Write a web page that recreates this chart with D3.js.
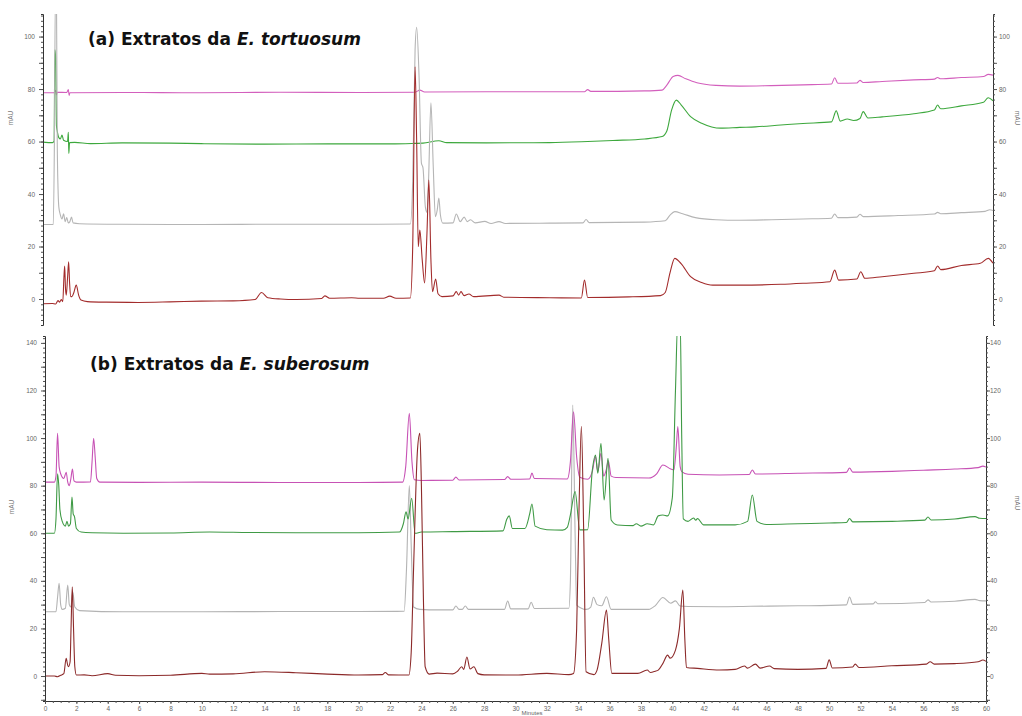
<!DOCTYPE html>
<html><head><meta charset="utf-8">
<script src="https://cdn.jsdelivr.net/npm/d3@7"></script>
<style>body{margin:0;background:#fff}svg{display:block}</style>
</head><body>
<svg id="c" width="1022" height="716"></svg>
<script>
// ---------- DATA (time in minutes, absorbance in mAU) ----------
const aPink=[[0,78.6],[0.7,78.6],[0.8,79.5],[0.85,77.8],[0.9,78.8],[1.5,78.7],[1.6,79.8],[1.65,77.6],[1.7,78.6],[5,78.7],[10,78.6],[15,78.8],[20,78.7],[23.5,78.8],[23.8,79.6],[24.1,78.9],[28,79],[34.2,79],[34.4,79.8],[34.6,79.1],[38,79.3],[39.1,79.6],[39.4,81.5],[39.8,84.8],[40.1,85.2],[40.6,83.9],[41.3,82.4],[42.5,81.4],[44,81.1],[46,81.3],[48,81.6],[49.8,81.9],[50.0,84.3],[50.2,82.2],[51.4,82.3],[51.6,83.3],[51.8,82.5],[53,82.9],[55,83.5],[56.3,83.8],[56.5,84.4],[56.7,83.9],[58,84.4],[59.4,84.8],[59.7,85.6],[60,85.3]];
const aGreen=[[0,59.8],[0.6,59.6],[0.7,60.2],[0.75,95],[0.8,92],[0.85,66],[0.9,64],[1.0,61.5],[1.1,61],[1.2,62.5],[1.3,60.5],[1.55,60],[1.6,63.5],[1.63,55.5],[1.68,59.6],[2,59.7],[3,59.2],[5,59.5],[8,59.4],[10,59.2],[14,59],[18,59.1],[22,59.1],[23.5,59.3],[24,59.4],[25,60.3],[25.5,59.6],[28,59.5],[32,59.6],[34,59.9],[36,60.4],[38,61],[39.1,61.9],[39.4,64],[39.7,72],[40.0,75.8],[40.3,74],[40.9,69.5],[41.6,67],[42.8,65.1],[44,65.4],[45,65.6],[46.6,66.3],[48,66.9],[49.8,67.5],[50.1,71.7],[50.35,67.8],[50.8,68.6],[51.2,68],[51.6,68.8],[51.8,71.4],[52.1,69],[53,69.4],[55,70.6],[56.3,72],[56.5,73.9],[56.7,72.5],[58,73.6],[59.4,75],[59.7,76.7],[60,75.5]];
const aGray=[[0,28.4],[0.65,28.4],[0.72,60],[0.78,115],[0.85,115],[0.9,60],[0.95,42],[1.0,35],[1.1,32],[1.2,30.5],[1.3,32.5],[1.4,29.5],[1.5,31],[1.6,29],[1.7,29.5],[1.8,31.2],[1.9,29],[2.3,28.7],[5,28.5],[10,28.4],[15,28.5],[20,28.5],[23.2,28.6],[23.35,45],[23.5,95],[23.6,103.5],[23.75,85],[23.9,51.8],[24.0,50],[24.15,35],[24.25,33],[24.35,45],[24.5,74.8],[24.65,50],[24.78,31.4],[24.9,34],[25.0,38.5],[25.1,32],[25.25,28.9],[25.9,29],[26.1,32.4],[26.35,29.5],[26.6,31.2],[26.8,29.5],[27.0,30.2],[27.3,29],[27.9,29.6],[28.3,28.8],[28.8,29.5],[29.2,28.8],[32,28.9],[34.1,29],[34.3,30.3],[34.5,29.1],[38,29.3],[39.3,29.8],[39.6,32],[39.9,33.3],[40.4,32.5],[41.2,31],[42.5,30.2],[44,30],[46,30.2],[48,30.5],[49.8,30.8],[50.0,32.4],[50.2,31],[51.4,31.2],[51.6,32.3],[51.8,31.4],[54,31.8],[56.3,32.4],[56.5,33],[56.7,32.5],[58,32.9],[59.5,33.4],[59.8,34],[60,33.7]];
const aRed=[[0,-1.8],[0.6,-1.7],[0.8,-1.9],[0.95,-0.6],[1.05,-1.2],[1.15,-0.2],[1.25,-1],[1.32,8],[1.37,12.6],[1.42,4],[1.47,1.5],[1.55,8],[1.62,14.2],[1.68,6],[1.75,1],[1.82,0.9],[1.95,2.5],[2.1,5.3],[2.25,1.5],[2.4,-0.4],[2.8,-1],[4,-1.2],[6,-1.3],[8,-1.1],[10,-0.8],[12,-0.7],[13.4,-0.2],[13.8,2.5],[14.2,0.5],[15,0],[16,-0.2],[17.6,0.2],[17.8,1.2],[18.1,0.3],[19.5,0.5],[20,0.3],[21.5,0.3],[21.9,1.1],[22.3,0.3],[23.2,0.4],[23.35,20],[23.5,88.5],[23.6,60],[23.7,19.9],[23.8,26.3],[23.95,15],[24.1,6.1],[24.25,25],[24.37,45.3],[24.5,15],[24.6,2.8],[24.8,7.6],[24.95,2],[25.2,0.9],[25.9,1.2],[26.1,2.8],[26.25,1.5],[26.4,2.8],[26.6,1.3],[26.9,1.9],[27.2,0.9],[28.8,1.5],[29.1,0.7],[32,0.5],[34,0.4],[34.2,7.2],[34.4,0.6],[37,0.8],[39,1.3],[39.3,2.5],[39.6,10],[39.9,15.5],[40.3,13.5],[40.9,8.5],[41.6,6.3],[42.3,5.3],[44,5.3],[46.6,5.6],[48,6],[49.7,6.6],[50.0,11],[50.25,7.2],[51.4,7.6],[51.65,10.4],[51.9,7.9],[53,8.5],[55,9.8],[56.3,10.8],[56.5,12.6],[56.7,11.2],[58,12.8],[59.2,13.6],[59.7,15.5],[60,13.6]];

const bPink=[[0,81.5],[0.6,81.5],[0.7,84],[0.8,102],[0.9,88],[1.0,85],[1.2,83],[1.35,85.6],[1.45,81.5],[1.55,80],[1.65,83],[1.75,87],[1.85,82],[2.0,81.5],[2.9,81.6],[3.0,90],[3.1,99.9],[3.2,92],[3.3,83],[3.5,81.5],[6,81.4],[10,81.5],[15,81.3],[20,81.3],[22.8,81.5],[23.0,88],[23.23,110.4],[23.4,90],[23.55,82.5],[24,82.2],[26,82.3],[26.2,83.6],[26.4,82.4],[29.3,82.6],[29.5,83.8],[29.7,82.7],[30.9,82.8],[31.05,85.3],[31.2,83],[33.3,82.8],[33.5,90],[33.7,111],[33.9,92],[34.1,83.5],[34.6,82.7],[34.9,86],[35.1,92.2],[35.25,85.9],[35.45,93.6],[35.62,84],[35.8,87],[35.92,90.5],[36.1,84],[36.4,83.4],[38.5,83.2],[39.0,85],[39.4,88.7],[39.9,87],[40.1,86.6],[40.25,96],[40.35,104.8],[40.5,88],[40.6,85.9],[41,84.8],[43,84.5],[44.9,84.7],[45.1,86.6],[45.3,84.9],[48,85.2],[51.1,85.6],[51.3,87.4],[51.5,85.7],[54,86],[56,86.5],[58,87],[59.5,87.6],[59.8,88.2],[60,87.8]];
const bGreen=[[0,60],[0.6,60],[0.7,66],[0.8,85],[0.88,80],[0.95,70],[1.1,65],[1.3,63],[1.4,65],[1.5,63],[1.62,64],[1.72,75.2],[1.8,68],[1.88,67],[2.0,62],[2.3,60.5],[3,60.2],[5,60],[8,60.1],[10.5,60.5],[13,60.3],[16,60.2],[20,60.2],[22.6,60.5],[22.85,64],[23.02,69],[23.15,66],[23.38,74.7],[23.6,60],[24,60.5],[26,60.7],[29.2,61],[29.45,66],[29.6,67.3],[29.8,62],[30.6,62],[30.9,68],[31.05,72.3],[31.25,63],[32,61.5],[33,61.3],[33.3,62.5],[33.5,67.7],[33.8,77.5],[34.1,61.4],[34.6,61.5],[34.9,86.6],[35.1,92.9],[35.25,85.2],[35.45,97.8],[35.65,74],[35.9,91.5],[36.1,65.6],[36.5,63.5],[37.5,63.2],[37.7,64],[38.0,63],[38.4,64],[38.8,63.5],[39.1,67.3],[39.4,67.7],[39.7,67.3],[40.0,75],[40.2,120],[40.35,150],[40.5,150],[40.6,100],[40.7,66],[41.0,65],[41.35,66.4],[41.5,65.5],[41.6,66.2],[42,63.5],[44,63.5],[44.8,65],[45.1,76.1],[45.4,65],[46,63.7],[48,64],[50,64.3],[51.1,64.5],[51.3,66.2],[51.5,64.8],[54,65],[56.1,65.5],[56.3,66.8],[56.5,65.6],[58,66],[59.3,67],[59.6,66.3],[60,66.2]];
const bGray=[[0,27],[0.7,27],[0.8,33],[0.9,39],[1.0,30],[1.1,28],[1.3,28.5],[1.45,38.2],[1.55,30],[1.65,29],[1.77,35.4],[1.9,29],[2.2,27.5],[5,27],[10,27],[15,27.1],[20,27.1],[22.9,27.2],[23.05,45],[23.23,80],[23.35,55],[23.5,29],[23.9,28],[24.5,27.8],[26,27.8],[26.2,29.4],[26.4,28],[26.6,28],[26.8,29.4],[27,28],[29.3,28],[29.5,31.5],[29.7,28.2],[30.8,28.2],[31.0,31],[31.2,28.4],[33.4,28.5],[33.5,40],[33.65,113.9],[33.8,60],[33.9,29.8],[34.5,28],[34.8,29],[34.97,33.1],[35.2,30],[35.5,29.5],[35.8,33.3],[36.1,28],[38.5,28],[38.9,29.5],[39.4,33],[39.9,30.6],[40.2,31.6],[40.5,29.4],[41,29.2],[43,29.1],[45,29.3],[48,29.5],[51.1,29.9],[51.3,33.2],[51.5,30.1],[52.8,30.3],[52.95,31.2],[53.1,30.4],[56.1,30.9],[56.3,32],[56.5,31.1],[58,31.4],[59.3,32.2],[59.6,31.7],[60,31.6]];
const bRed=[[0,0],[0.6,0],[0.8,-0.3],[1.0,0.3],[1.2,1],[1.35,7.4],[1.45,4.5],[1.5,3.9],[1.6,6],[1.66,20],[1.74,37.5],[1.82,20],[1.9,4],[2.0,0.4],[2.5,0.5],[3,0.1],[4,1],[4.5,0.3],[6,0.1],[8,0.3],[10,1.1],[10.5,0.8],[12,0.9],[14,1.8],[16,1.4],[18,0.8],[20,0.4],[21.5,0.6],[21.7,1.5],[21.9,0.5],[23.2,0.4],[23.35,10],[23.5,45],[23.75,95],[23.9,102],[24.0,80],[24.13,32],[24.24,3.9],[24.5,0.8],[25,1.2],[26,0.9],[26.3,2],[26.57,3.9],[26.7,2.8],[26.9,8],[27.1,3],[27.35,3.9],[27.6,1],[28,0.5],[30,0.4],[32,1.1],[33.4,0.6],[33.7,1.1],[33.9,20],[34.05,70],[34.2,105],[34.35,60],[34.5,1.8],[35,0.6],[35.2,2.5],[35.5,13.7],[35.8,27.7],[35.95,15],[36.14,1.1],[37.8,1.1],[38.4,2.5],[38.6,1.5],[38.9,2],[39.1,2.5],[39.4,5.3],[39.7,8.8],[39.86,7.5],[40.2,10.9],[40.45,20],[40.67,36.1],[40.8,15],[40.9,3.6],[41.6,3.2],[43,2.5],[44,2.8],[44.6,4.2],[44.8,3.3],[45.3,5.0],[45.6,3.3],[46.2,4.2],[46.5,3.1],[48,2.8],[49.8,3.2],[50.0,6.8],[50.2,3.4],[51.5,3.8],[51.66,5.0],[51.9,3.6],[54,4.3],[56.2,5],[56.44,6.0],[56.7,5],[58,5.2],[59.5,6],[59.8,6.7],[60,6.2]];

const xTickValues=d3.range(0,61,2);
const yLabelsA=[0,20,40,60,80,100];
const yLabelsB=[0,20,40,60,80,100,120,140];
const titleA=["(a) Extratos da ","E. tortuosum"];
const titleB=["(b) Extratos da ","E. suberosum"];
const yUnit="mAU", xUnit="Minutes";

// ---------- DRAW ----------
const svg=d3.select("#c");
const FONT="'Liberation Sans', Arial, sans-serif";

function panel(o){
  const x=d3.scaleLinear().domain([0,60]).range([o.x0,o.x1]);
  const y=d3.scaleLinear().domain(o.yd).range([o.y1,o.y0]);
  const g=svg.append("g");
  const cid="clip"+o.id;
  svg.append("defs").append("clipPath").attr("id",cid).append("rect")
    .attr("x",o.x0).attr("y",o.y0).attr("width",o.x1-o.x0).attr("height",o.y1-o.y0);
  const line=d3.line().x(d=>x(d[0])).y(d=>y(d[1])).curve(d3.curveMonotoneX);
  const lg=g.append("g").attr("clip-path","url(#"+cid+")");
  o.series.forEach(s=>{
    lg.append("path").datum(s.data).attr("d",line).attr("fill","none")
      .attr("stroke",s.color).attr("stroke-width",1.1).attr("stroke-linejoin","round");
  });
  const minor=d3.range(Math.ceil(o.yd[0]/2)*2,o.yd[1],2);
  const mid=minor.filter(v=>v%10===0);
  [["L",o.x0,d3.axisLeft],["R",o.x1,d3.axisRight]].forEach(([side,px,fn])=>{
    const a1=g.append("g").attr("transform",`translate(${px},0)`)
      .call(fn(y).tickValues(minor).tickSize(2).tickFormat(""));
    a1.select(".domain").attr("stroke","#333");
    a1.selectAll(".tick line").attr("stroke","#555");
    const a2=g.append("g").attr("transform",`translate(${px},0)`)
      .call(fn(y).tickValues(mid).tickSize(4).tickFormat(""));
    a2.select(".domain").remove();
    a2.selectAll(".tick line").attr("stroke","#555");
    const a3=g.append("g").attr("transform",`translate(${px},0)`)
      .call(fn(y).tickValues(o.labels).tickSize(0).tickPadding(side==="L"?o.padL:o.padR));
    a3.select(".domain").remove();
    a3.selectAll("text").attr("font-size","6.5px").attr("fill","#666").attr("font-family",FONT);
  });
  if(o.xaxis){
    const ax1=g.append("g").attr("transform",`translate(0,${o.y1})`)
      .call(d3.axisBottom(x).tickValues(d3.range(0,60.01,0.5)).tickSize(2).tickFormat(""));
    ax1.select(".domain").attr("stroke","#333");
    ax1.selectAll(".tick line").attr("stroke","#555");
    const ax2=g.append("g").attr("transform",`translate(0,${o.y1})`)
      .call(d3.axisBottom(x).tickValues(xTickValues).tickSize(3).tickPadding(2));
    ax2.select(".domain").remove();
    ax2.selectAll(".tick line").attr("stroke","#555");
    ax2.selectAll("text").attr("font-size","6.5px").attr("fill","#666").attr("font-family",FONT);
    g.append("text").attr("x",x(30)+6).attr("y",o.y1+14).attr("text-anchor","start")
      .attr("font-size","6px").attr("fill","#666").attr("font-family",FONT).text(xUnit);
  }
  o.units.forEach(u=>{
    g.append("text").attr("transform",`translate(${u[0]},${u[1]}) rotate(${u[2]})`)
      .attr("text-anchor","middle").attr("font-size","6.5px").attr("fill","#777")
      .attr("font-family",FONT).text(yUnit);
  });
  const t=g.append("text").attr("x",o.tx).attr("y",o.ty).attr("font-family","'DejaVu Sans', Verdana, sans-serif")
    .attr("font-weight","bold").attr("font-size","17px").attr("fill","#111");
  t.append("tspan").text(o.title[0]);
  t.append("tspan").attr("font-style","italic").text(o.title[1]);
}

panel({id:"A",x0:43,x1:993,y0:14,y1:325,yd:[-9.9,108.6],labels:yLabelsA,padL:8,padR:6,
  xaxis:false,units:[[13,118,-90],[1015,118,90]],tx:88,ty:45,title:titleA,
  series:[{data:aPink,color:"#d35fbd"},{data:aGreen,color:"#3da83d"},{data:aGray,color:"#b5b5b5"},{data:aRed,color:"#a32c2c"}]});
panel({id:"B",x0:45,x1:986,y0:336,y1:701,yd:[-10.5,142.9],labels:yLabelsB,padL:8,padR:4,
  xaxis:true,units:[[14,507,-90],[1015,503,90]],tx:90,ty:370,title:titleB,
  series:[{data:bGray,color:"#b3b3b3"},{data:bPink,color:"#c752b5"},{data:bGreen,color:"#3f9a45"},{data:bRed,color:"#8c2a2a"}]});
</script>
</body></html>
